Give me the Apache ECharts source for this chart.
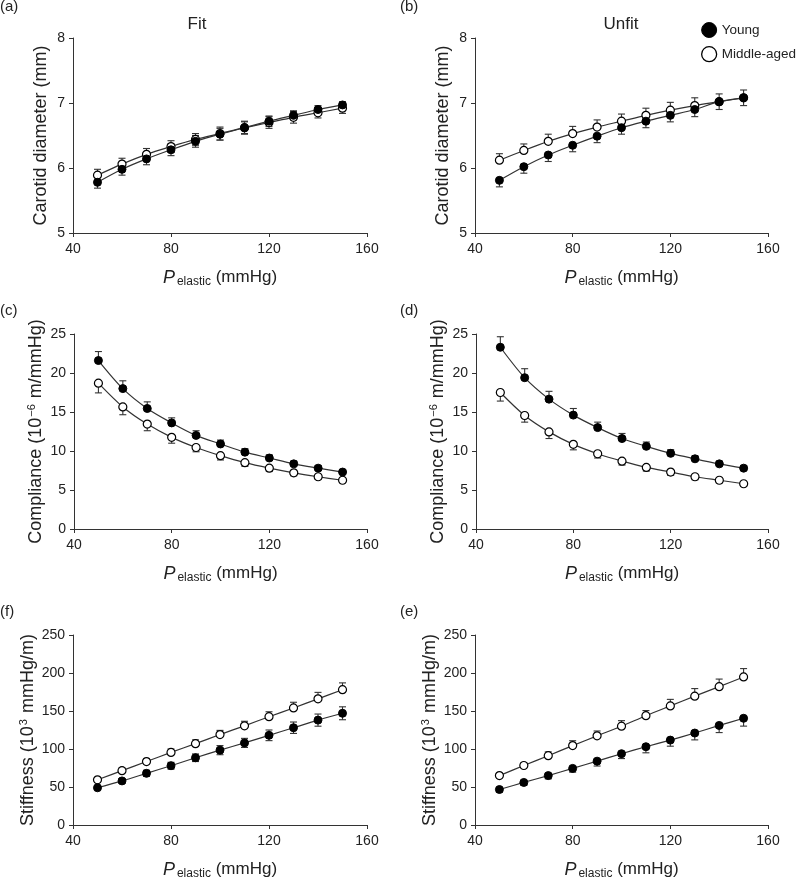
<!DOCTYPE html>
<html>
<head>
<meta charset="utf-8">
<script src="https://cdn.jsdelivr.net/npm/echarts@6/dist/echarts.min.js"></script>
<style>html,body{margin:0;padding:0;background:#fff}#c{width:800px;height:881px}</style>
</head>
<body>
<div id="c"></div>
<script>
// ---------- DATA ----------
const pressure = [50, 60, 70, 80, 90, 100, 110, 120, 130, 140, 150];
const xTicks = [40, 80, 120, 160];

// (a) Fit – carotid diameter (mm)
const fitDiamYoung    = [5.78, 5.98, 6.14, 6.28, 6.41, 6.52, 6.62, 6.72, 6.81, 6.90, 6.97];
const fitDiamYoungSE  = [0.09, 0.09, 0.09, 0.09, 0.09, 0.09, 0.09, 0.08, 0.07, 0.06, 0.05];
const fitDiamMiddle   = [5.89, 6.06, 6.21, 6.33, 6.44, 6.53, 6.62, 6.70, 6.78, 6.85, 6.92];
const fitDiamMiddleSE = [0.09, 0.09, 0.09, 0.09, 0.09, 0.10, 0.10, 0.09, 0.09, 0.08, 0.08];

// (b) Unfit – carotid diameter (mm)
const unfitDiamYoung    = [5.81, 6.02, 6.20, 6.35, 6.49, 6.62, 6.72, 6.81, 6.90, 7.02, 7.08];
const unfitDiamYoungSE  = [0.10, 0.10, 0.10, 0.10, 0.10, 0.10, 0.10, 0.10, 0.11, 0.12, 0.12];
const unfitDiamMiddle   = [6.12, 6.27, 6.41, 6.53, 6.63, 6.72, 6.81, 6.89, 6.96, 7.02, 7.08];
const unfitDiamMiddleSE = [0.10, 0.10, 0.11, 0.11, 0.11, 0.11, 0.11, 0.12, 0.12, 0.12, 0.12];

// (c) Fit – compliance (10^-6 m/mmHg)
const fitCompYoung    = [21.6, 18.0, 15.45, 13.6, 12.0, 10.9, 9.85, 9.1, 8.35, 7.8, 7.3];
const fitCompYoungSE  = [1.15, 1.0, 0.85, 0.65, 0.6, 0.5, 0.45, 0.4, 0.35, 0.3, 0.25];
const fitCompMiddle   = [18.7, 15.65, 13.45, 11.75, 10.45, 9.4, 8.5, 7.8, 7.2, 6.7, 6.25];
const fitCompMiddleSE = [1.25, 1.0, 0.85, 0.75, 0.55, 0.55, 0.47, 0.43, 0.38, 0.34, 0.32];

// (d) Unfit – compliance (10^-6 m/mmHg)
const unfitCompYoung    = [23.3, 19.4, 16.65, 14.6, 13.0, 11.6, 10.6, 9.7, 9.0, 8.35, 7.8];
const unfitCompYoungSE  = [1.35, 1.15, 1.0, 0.85, 0.7, 0.65, 0.55, 0.47, 0.38, 0.34, 0.32];
const unfitCompMiddle   = [17.5, 14.55, 12.45, 10.85, 9.65, 8.7, 7.9, 7.3, 6.7, 6.25, 5.8];
const unfitCompMiddleSE = [1.1, 0.85, 0.85, 0.7, 0.55, 0.5, 0.47, 0.43, 0.38, 0.34, 0.34];

// (f) Fit – stiffness (10^3 mmHg/m)
const fitStiffYoung    = [49, 58, 68, 78, 88.5, 98.5, 108, 118, 128, 138, 147];
const fitStiffYoungSE  = [2, 3, 4, 4.5, 5, 6, 6, 7, 7.5, 8, 8.5];
const fitStiffMiddle   = [59.5, 71.5, 83.5, 95.5, 107, 119, 130.5, 142.5, 154, 166, 178];
const fitStiffMiddleSE = [3, 3.5, 4, 4.5, 5, 5.5, 6, 6.5, 7.5, 8.5, 9];

// (e) Unfit – stiffness (10^3 mmHg/m)
const unfitStiffYoung    = [46.7, 56, 65, 74.5, 84, 93.8, 103, 111.7, 121, 131, 140.4];
const unfitStiffYoungSE  = [3.4, 3.9, 4.3, 5, 6.4, 6.4, 8, 8, 9, 9.4, 10.3];
const unfitStiffMiddle   = [65, 78.3, 91.2, 104.5, 117.3, 130, 143.8, 156.7, 169.5, 182, 194.8];
const unfitStiffMiddleSE = [3, 3.4, 5, 6.4, 6.4, 7.3, 6.8, 8.6, 10, 10, 11];

const diamTicks = [5, 6, 7, 8];
const compTicks = [0, 5, 10, 15, 20, 25];
const stiffTicks = [0, 50, 100, 150, 200, 250];

// ---------- CHART ----------
const FONT = '"Liberation Sans", Arial, Helvetica, sans-serif';
const INK = '#222';
const AXIS = '#333';

const panels = [
  { label: '(a)', grid: {left: 73, top: 38, width: 294, height: 195}, ticks: diamTicks, yName: '{n|Carotid diameter (mm)}', gap: 23,
    young: fitDiamYoung, youngSE: fitDiamYoungSE, youngDir: 'both', mid: fitDiamMiddle, midSE: fitDiamMiddleSE, midDir: 'both' },
  { label: '(b)', grid: {left: 475, top: 38, width: 293, height: 195}, ticks: diamTicks, yName: '{n|Carotid diameter (mm)}', gap: 23,
    young: unfitDiamYoung, youngSE: unfitDiamYoungSE, youngDir: 'down', mid: unfitDiamMiddle, midSE: unfitDiamMiddleSE, midDir: 'up' },
  { label: '(c)', grid: {left: 74, top: 334, width: 293, height: 195}, ticks: compTicks, yName: '{n|Compliance (10}{sup|−6}{n| m/mmHg)}', gap: 28,
    young: fitCompYoung, youngSE: fitCompYoungSE, youngDir: 'up', mid: fitCompMiddle, midSE: fitCompMiddleSE, midDir: 'down' },
  { label: '(d)', grid: {left: 476, top: 334, width: 292, height: 195}, ticks: compTicks, yName: '{n|Compliance (10}{sup|−6}{n| m/mmHg)}', gap: 28,
    young: unfitCompYoung, youngSE: unfitCompYoungSE, youngDir: 'up', mid: unfitCompMiddle, midSE: unfitCompMiddleSE, midDir: 'down' },
  { label: '(f)', grid: {left: 73, top: 635, width: 294, height: 195}, ticks: stiffTicks, yName: '{n|Stiffness (10}{sup|3}{n| mmHg/m)}', gap: 35,
    young: fitStiffYoung, youngSE: fitStiffYoungSE, youngDir: 'both', mid: fitStiffMiddle, midSE: fitStiffMiddleSE, midDir: 'up' },
  { label: '(e)', grid: {left: 475, top: 635, width: 293, height: 195}, ticks: stiffTicks, yName: '{n|Stiffness (10}{sup|3}{n| mmHg/m)}', gap: 35,
    young: unfitStiffYoung, youngSE: unfitStiffYoungSE, youngDir: 'down', mid: unfitStiffMiddle, midSE: unfitStiffMiddleSE, midDir: 'up' }
];

function errData(vals, se, dir) {
  return pressure.map((x, i) => {
    const lo = (dir === 'up') ? vals[i] : vals[i] - se[i];
    const hi = (dir === 'down') ? vals[i] : vals[i] + se[i];
    return [x, vals[i], lo, hi];
  });
}

function renderErr(params, api) {
  const x = api.value(0), y = api.value(1), lo = api.value(2), hi = api.value(3);
  const pLo = api.coord([x, lo]), pHi = api.coord([x, hi]);
  const cw = 3.5;
  const st = {stroke: '#333', lineWidth: 1.1};
  const ch = [{type: 'line', shape: {x1: pLo[0], y1: pLo[1], x2: pHi[0], y2: pHi[1]}, style: st}];
  if (lo < y) ch.push({type: 'line', shape: {x1: pLo[0] - cw, y1: pLo[1], x2: pLo[0] + cw, y2: pLo[1]}, style: st});
  if (hi > y) ch.push({type: 'line', shape: {x1: pHi[0] - cw, y1: pHi[1], x2: pHi[0] + cw, y2: pHi[1]}, style: st});
  return {type: 'group', children: ch};
}

const grids = [], xAxes = [], yAxes = [], series = [], graphics = [];

panels.forEach((p, k) => {
  grids.push(Object.assign({containLabel: false}, p.grid));
  xAxes.push({
    type: 'value', gridIndex: k, min: xTicks[0], max: xTicks[xTicks.length - 1], interval: xTicks[1] - xTicks[0],
    axisLine: {show: true, lineStyle: {color: AXIS, width: 1}},
    axisTick: {show: true, length: 4, lineStyle: {color: AXIS}},
    splitLine: {show: false},
    axisLabel: {fontFamily: FONT, fontSize: 14, color: INK, margin: 9},
    name: '{p|P}{s|elastic}{n| (mmHg)}', nameLocation: 'middle', nameGap: 34,
    nameTextStyle: {fontFamily: FONT, color: INK, rich: {
      p: {fontFamily: FONT, fontSize: 18, fontStyle: 'italic', color: INK},
      s: {fontFamily: FONT, fontSize: 12, color: INK, padding: [9, 0, 0, 2]},
      n: {fontFamily: FONT, fontSize: 17, color: INK}
    }}
  });
  yAxes.push({
    type: 'value', gridIndex: k, min: p.ticks[0], max: p.ticks[p.ticks.length - 1], interval: p.ticks[1] - p.ticks[0],
    axisLine: {show: true, lineStyle: {color: AXIS, width: 1}},
    axisTick: {show: true, length: 4, lineStyle: {color: AXIS}},
    splitLine: {show: false},
    axisLabel: {fontFamily: FONT, fontSize: 14, color: INK, margin: 8},
    name: p.yName, nameLocation: 'middle', nameGap: p.gap,
    nameTextStyle: {fontFamily: FONT, color: INK, rich: {
      n: {fontFamily: FONT, fontSize: 18, color: INK},
      sup: {fontFamily: FONT, fontSize: 11, color: INK, padding: [0, 1, 9, 1]}
    }}
  });
  series.push({
    type: 'custom', name: 'errY' + k, xAxisIndex: k, yAxisIndex: k, z: 1,
    renderItem: renderErr, data: errData(p.young, p.youngSE, p.youngDir), silent: true
  });
  series.push({
    type: 'custom', name: 'errM' + k, xAxisIndex: k, yAxisIndex: k, z: 1,
    renderItem: renderErr, data: errData(p.mid, p.midSE, p.midDir), silent: true
  });
  series.push({
    type: 'line', name: 'Young', xAxisIndex: k, yAxisIndex: k, z: 3, smooth: 0.3,
    data: pressure.map((x, i) => [x, p.young[i]]),
    symbol: 'circle', symbolSize: 8,
    lineStyle: {color: '#333', width: 1.2},
    itemStyle: {color: '#000', borderColor: '#000', borderWidth: 1}
  });
  series.push({
    type: 'line', name: 'Middle-aged', xAxisIndex: k, yAxisIndex: k, z: 2, smooth: 0.3,
    data: pressure.map((x, i) => [x, p.mid[i]]),
    symbol: 'circle', symbolSize: 8,
    lineStyle: {color: '#333', width: 1.2},
    itemStyle: {color: '#fff', borderColor: '#000', borderWidth: 1.2}
  });
  const lx = (k % 2 === 0) ? 0 : 400;
  const ly = [8, 8, 312, 312, 613, 613][k];
  graphics.push({type: 'text', left: lx, top: ly - 9, style: {text: p.label, fontFamily: FONT, fontSize: 15, fill: INK}});
});

graphics.push({type: 'text', x: 197, y: 24, style: {text: 'Fit', fontFamily: FONT, fontSize: 17, fill: INK, textAlign: 'center', textVerticalAlign: 'middle'}});
graphics.push({type: 'text', x: 621, y: 24, style: {text: 'Unfit', fontFamily: FONT, fontSize: 17, fill: INK, textAlign: 'center', textVerticalAlign: 'middle'}});

const chart = echarts.init(document.getElementById('c'), null, {renderer: 'canvas'});
chart.setOption({
  animation: false,
  backgroundColor: '#fff',
  grid: grids, xAxis: xAxes, yAxis: yAxes, series: series,
  legend: {
    orient: 'vertical', left: 696, top: 17, itemWidth: 15, itemHeight: 15, itemGap: 8, icon: 'circle',
    textStyle: {fontFamily: FONT, fontSize: 13.5, color: INK, padding: [0, 0, 0, 0]},
    data: [
      {name: 'Young', itemStyle: {color: '#000', borderColor: '#000', borderWidth: 1}},
      {name: 'Middle-aged', itemStyle: {color: '#fff', borderColor: '#000', borderWidth: 1.3}}
    ]
  },
  graphic: graphics
});
</script>
</body>
</html>
